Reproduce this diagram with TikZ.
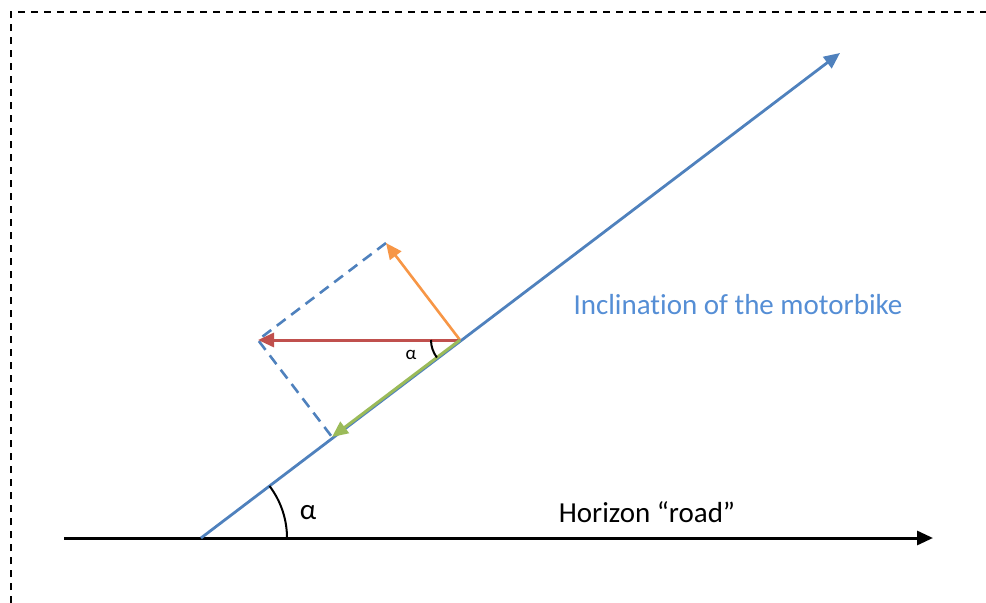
\documentclass[tikz,border=0pt]{standalone}
\usepackage{fontspec}
\setmainfont{Carlito}[Ligatures=NoCommon]
\usetikzlibrary{arrows.meta}
\definecolor{obl}{HTML}{4F81BD}
\definecolor{ored}{HTML}{C0504D}
\definecolor{ogr}{HTML}{9BBB59}
\definecolor{oor}{HTML}{F79646}
\definecolor{otx}{HTML}{558ED5}
\begin{document}
\begin{tikzpicture}[x=1bp,y=-1bp,
  vec/.style={line width=2.6bp,-{Triangle[length=16bp,width=14bp]}},
  helper/.style={obl,line width=2.6bp,dash pattern=on 11bp off 7bp},
  anglearc/.style={black,line width=2bp},
  lbl/.style={inner sep=0pt,font=\fontsize{29bp}{33bp}\selectfont}]
\useasboundingbox (0,0) rectangle (986,603);
% frame
\draw[line width=2bp,dash pattern=on 7bp off 6bp] (10.5,603) -- (10.5,12.5) -- (986,12.5);
% points
\coordinate (O) at (201,538);
\coordinate (T) at (840,53);
\coordinate (P) at (460,340);
\coordinate (R) at (258,340);
\coordinate (G) at (332,437);
\coordinate (U) at (386,243);
\coordinate (H1) at (64,538);
\coordinate (H2) at (933,538);
% horizon
\draw[vec,black,line width=3bp] (H1) -- (H2);
% inclination
\draw[vec,obl,line width=2.8bp] (O) -- (T);
% helper dashed
\draw[helper] (U) -- (R) -- (G);
% vectors
\draw[vec,oor] (P) -- (U);
\draw[vec,ored,line width=3bp] (P) -- (R);
\draw[vec,ogr,line width=3bp] (P) -- (G);
% angle arcs
\draw[anglearc] ([shift={(0:86bp)}]O) arc[start angle=0,end angle=37.2,radius=86bp];
\draw[anglearc] ([shift={(180:29bp)}]P) arc[start angle=180,end angle=217.2,radius=29bp];
% labels
\node[lbl] (a1) at (308,513) {α};
\node[lbl,font=\fontsize{19bp}{21bp}\selectfont] (a2) at (411,355) {α};
\node[lbl,text=otx] (inc) at (738,305) {Inclination of the motorbike};
\node[lbl] (hor) at (647,512) {Horizon “road”};
\end{tikzpicture}
\end{document}
